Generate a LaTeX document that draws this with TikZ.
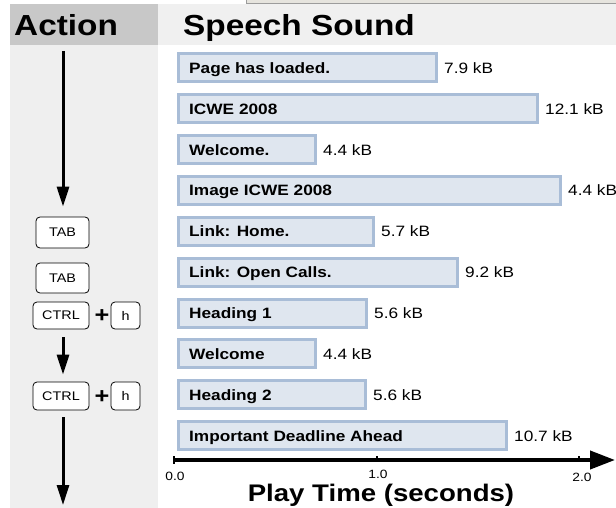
\documentclass[tikz,border=0pt]{standalone}
\usepackage{fontspec}
\setmainfont{Liberation Sans}[FakeStretch=1.15]
\usetikzlibrary{arrows.meta}
\newcommand\myfs[1]{\fontsize{#1}{#1}\selectfont}
\definecolor{hdrdark}{HTML}{C8C8C8}
\definecolor{hdrlight}{HTML}{F0F0F0}
\definecolor{colgray}{HTML}{EFEFEF}
\definecolor{barfill}{HTML}{DFE6EF}
\definecolor{barline}{HTML}{A9BDD7}
\definecolor{winbar}{HTML}{E6E4DE}
\definecolor{winline}{HTML}{9C9C9C}
\tikzset{
  bar/.style={draw=barline, fill=barfill, line width=3pt, minimum height=28pt, inner sep=0pt, anchor=west},
  blabel/.style={font=\myfs{15pt}\bfseries, text height=11pt, text depth=0pt, inner sep=0pt, anchor=west},
  kb/.style={font=\myfs{15pt}, text height=11pt, text depth=0pt, inner sep=0pt, anchor=west},
  keybox/.style={draw, fill=white, rounded corners=4pt, line width=0.8pt, font=\myfs{12.5pt}, inner sep=0pt},
  plussign/.style={font=\myfs{22pt}\bfseries, inner sep=0pt},
  header/.style={font=\myfs{29pt}\bfseries, inner sep=0pt, anchor=base west},
  flow/.style={line width=3pt, -{Triangle[length=20pt,width=12pt]}},
  ticklbl/.style={font=\myfs{12pt}, inner sep=0pt},
}
\begin{document}
\begin{tikzpicture}[x=1pt,y=-1pt]
\useasboundingbox (0,0) rectangle (616,508);
\fill[white] (0,0) rectangle (616,508);
% backgrounds
\fill[hdrdark] (10,4) rectangle (158,45);
\fill[hdrlight] (158,4) rectangle (616,45);
\fill[colgray] (10,45) rectangle (158,508);
\filldraw[fill=winbar, draw=winline, line width=0.6pt] (246,-2) rectangle (620,3);
% headers
\node[header] (hact) at (14,36) {Action};
\node[header] (hspeech) at (183,36) {Speech Sound};
% bars
\foreach \i/\y/\w/\t/\k in {
  1/68/258/Page has loaded./7.9 kB,
  2/108.8/359/ICWE 2008/12.1 kB,
  3/149.7/137/Welcome./4.4 kB,
  4/190.5/382/Image ICWE 2008/4.4 kB,
  5/231.3/195/Link: Home./5.7 kB,
  6/272.2/279/Link: Open Calls./9.2 kB,
  7/313/188/Heading 1/5.6 kB,
  8/353.8/137/Welcome/4.4 kB,
  9/394.7/187/Heading 2/5.6 kB,
  10/435.5/328/Important Deadline Ahead/10.7 kB}{
  \node[bar, minimum width=\w pt] (b\i) at (177,\y) {};
  \node[blabel] (t\i) at ([xshift=12pt]b\i.west) {\t};
  \node[kb] (k\i) at ([xshift=6pt]b\i.east) {\k};
}
% keys
\node[keybox, minimum width=53pt, minimum height=31pt] (tab1) at (62.5,232.5) {TAB};
\node[keybox, minimum width=53pt, minimum height=30pt] (tab2) at (62.5,278) {TAB};
\node[keybox, minimum width=56pt, minimum height=27pt] (ctrl1) at (61,315.5) {CTRL};
\node[plussign] (plus1) at (102,316) {+};
\node[keybox, minimum width=29pt, minimum height=27pt] (h1) at (125.5,315.5) {h};
\node[keybox, minimum width=56pt, minimum height=28pt] (ctrl2) at (61,396) {CTRL};
\node[plussign] (plus2) at (102,397) {+};
\node[keybox, minimum width=29pt, minimum height=28pt] (h2) at (125.5,396) {h};
% flow arrows
\coordinate (a1s) at (63,51);
\coordinate (a3e) at (63,505);
\draw[flow] (a1s) -- ([yshift=10pt]tab1.north -| a1s);
\draw[flow] ([yshift=-8pt]ctrl1.south -| a1s) -- ([yshift=7pt]ctrl2.north -| a1s);
\draw[flow] ([yshift=-7pt]ctrl2.south -| a1s) -- (a3e);
% time axis
\coordinate (ax0) at (173,460);
\coordinate (ax1) at (615,460);
\draw[line width=4pt, -{Triangle[length=25pt,width=18pt]}] (ax0) -- (ax1);
\draw[line width=2pt] (174,456) -- (174,464);
\draw[line width=2pt] (377,456) -- (377,461);
\draw[line width=2pt] (579,456) -- (579,461);
\node[ticklbl] (l0) at (175,476) {0.0};
\node[ticklbl] (l1) at (378,474) {1.0};
\node[ticklbl] (l2) at (582,477) {2.0};
\node[font=\myfs{24pt}\bfseries, inner sep=0pt, anchor=base] (xlab) at (381,501) {Play Time (seconds)};
\end{tikzpicture}
\end{document}
